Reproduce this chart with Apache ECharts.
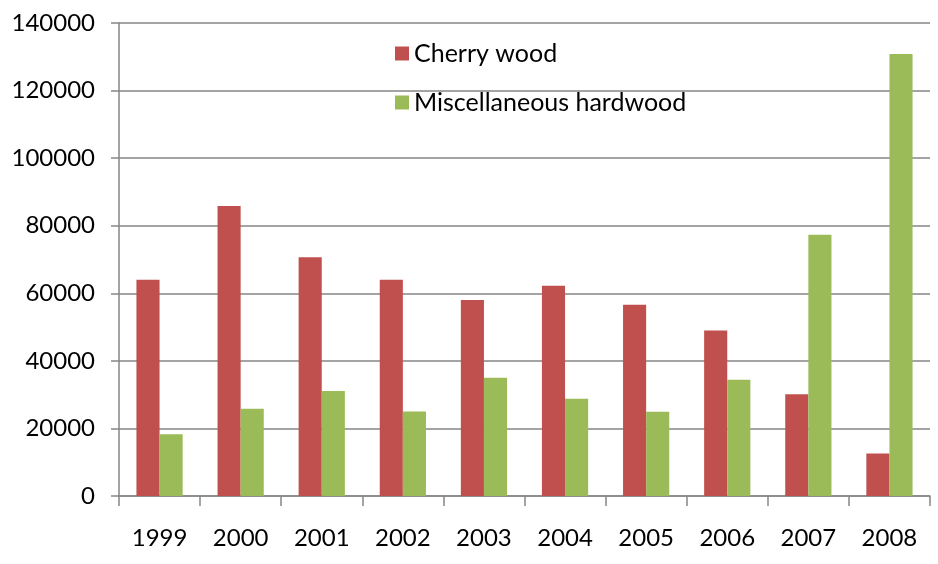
<!DOCTYPE html>
<html>
<head>
<meta charset="utf-8">
<script src="https://cdn.jsdelivr.net/npm/echarts@6/dist/echarts.min.js"></script>
<style>html,body{margin:0;padding:0;background:#fff}#c{width:938px;height:564px}</style>
</head>
<body>
<div id="c"></div>
<script>
var years = ['1999','2000','2001','2002','2003','2004','2005','2006','2007','2008'];
var cherry = [64000, 85800, 70700, 64000, 58000, 62200, 56600, 49000, 30100, 12600];
var misc = [18300, 25800, 31100, 25000, 35000, 28800, 24900, 34400, 77300, 130800];
var yTicks = [0, 20000, 40000, 60000, 80000, 100000, 120000, 140000];

var chart = echarts.init(document.getElementById('c'));
var font = 'Lato';
var gray = '#868686';
chart.setOption({
  animation: false,
  textStyle: { fontFamily: font },
  grid: { left: 119, right: 8, top: 23, bottom: 68, containLabel: false },
  legend: {
    orient: 'vertical', left: 390, top: 36,
    itemWidth: 14, itemHeight: 14, itemGap: 24,
    icon: 'rect',
    textStyle: { fontFamily: font, fontSize: 25, color: '#000' },
    data: ['Cherry wood', 'Miscellaneous hardwood']
  },
  xAxis: {
    type: 'category', data: years,
    axisLine: { lineStyle: { color: gray, width: 1.5 } },
    axisTick: { show: true, length: 10, lineStyle: { color: gray, width: 1.5 } },
    axisLabel: { fontFamily: font, fontSize: 24, color: '#000', margin: 30 }
  },
  yAxis: {
    type: 'value', min: yTicks[0], max: yTicks[yTicks.length - 1], interval: 20000,
    axisLine: { show: true, lineStyle: { color: gray, width: 1.5 } },
    axisTick: { show: true, length: 8, lineStyle: { color: gray, width: 1.5 } },
    splitLine: { show: true, lineStyle: { color: gray, width: 1.5 } },
    axisLabel: { fontFamily: font, fontSize: 24, color: '#000', margin: 24,
      formatter: function (v) { return String(v); } }
  },
  series: [
    { name: 'Cherry wood', type: 'bar', data: cherry, barGap: '0%', barCategoryGap: '43%',
      itemStyle: { color: '#C0504D' } },
    { name: 'Miscellaneous hardwood', type: 'bar', data: misc, barGap: '0%', barCategoryGap: '43%',
      itemStyle: { color: '#9BBB59' } }
  ]
});
</script>
</body>
</html>
